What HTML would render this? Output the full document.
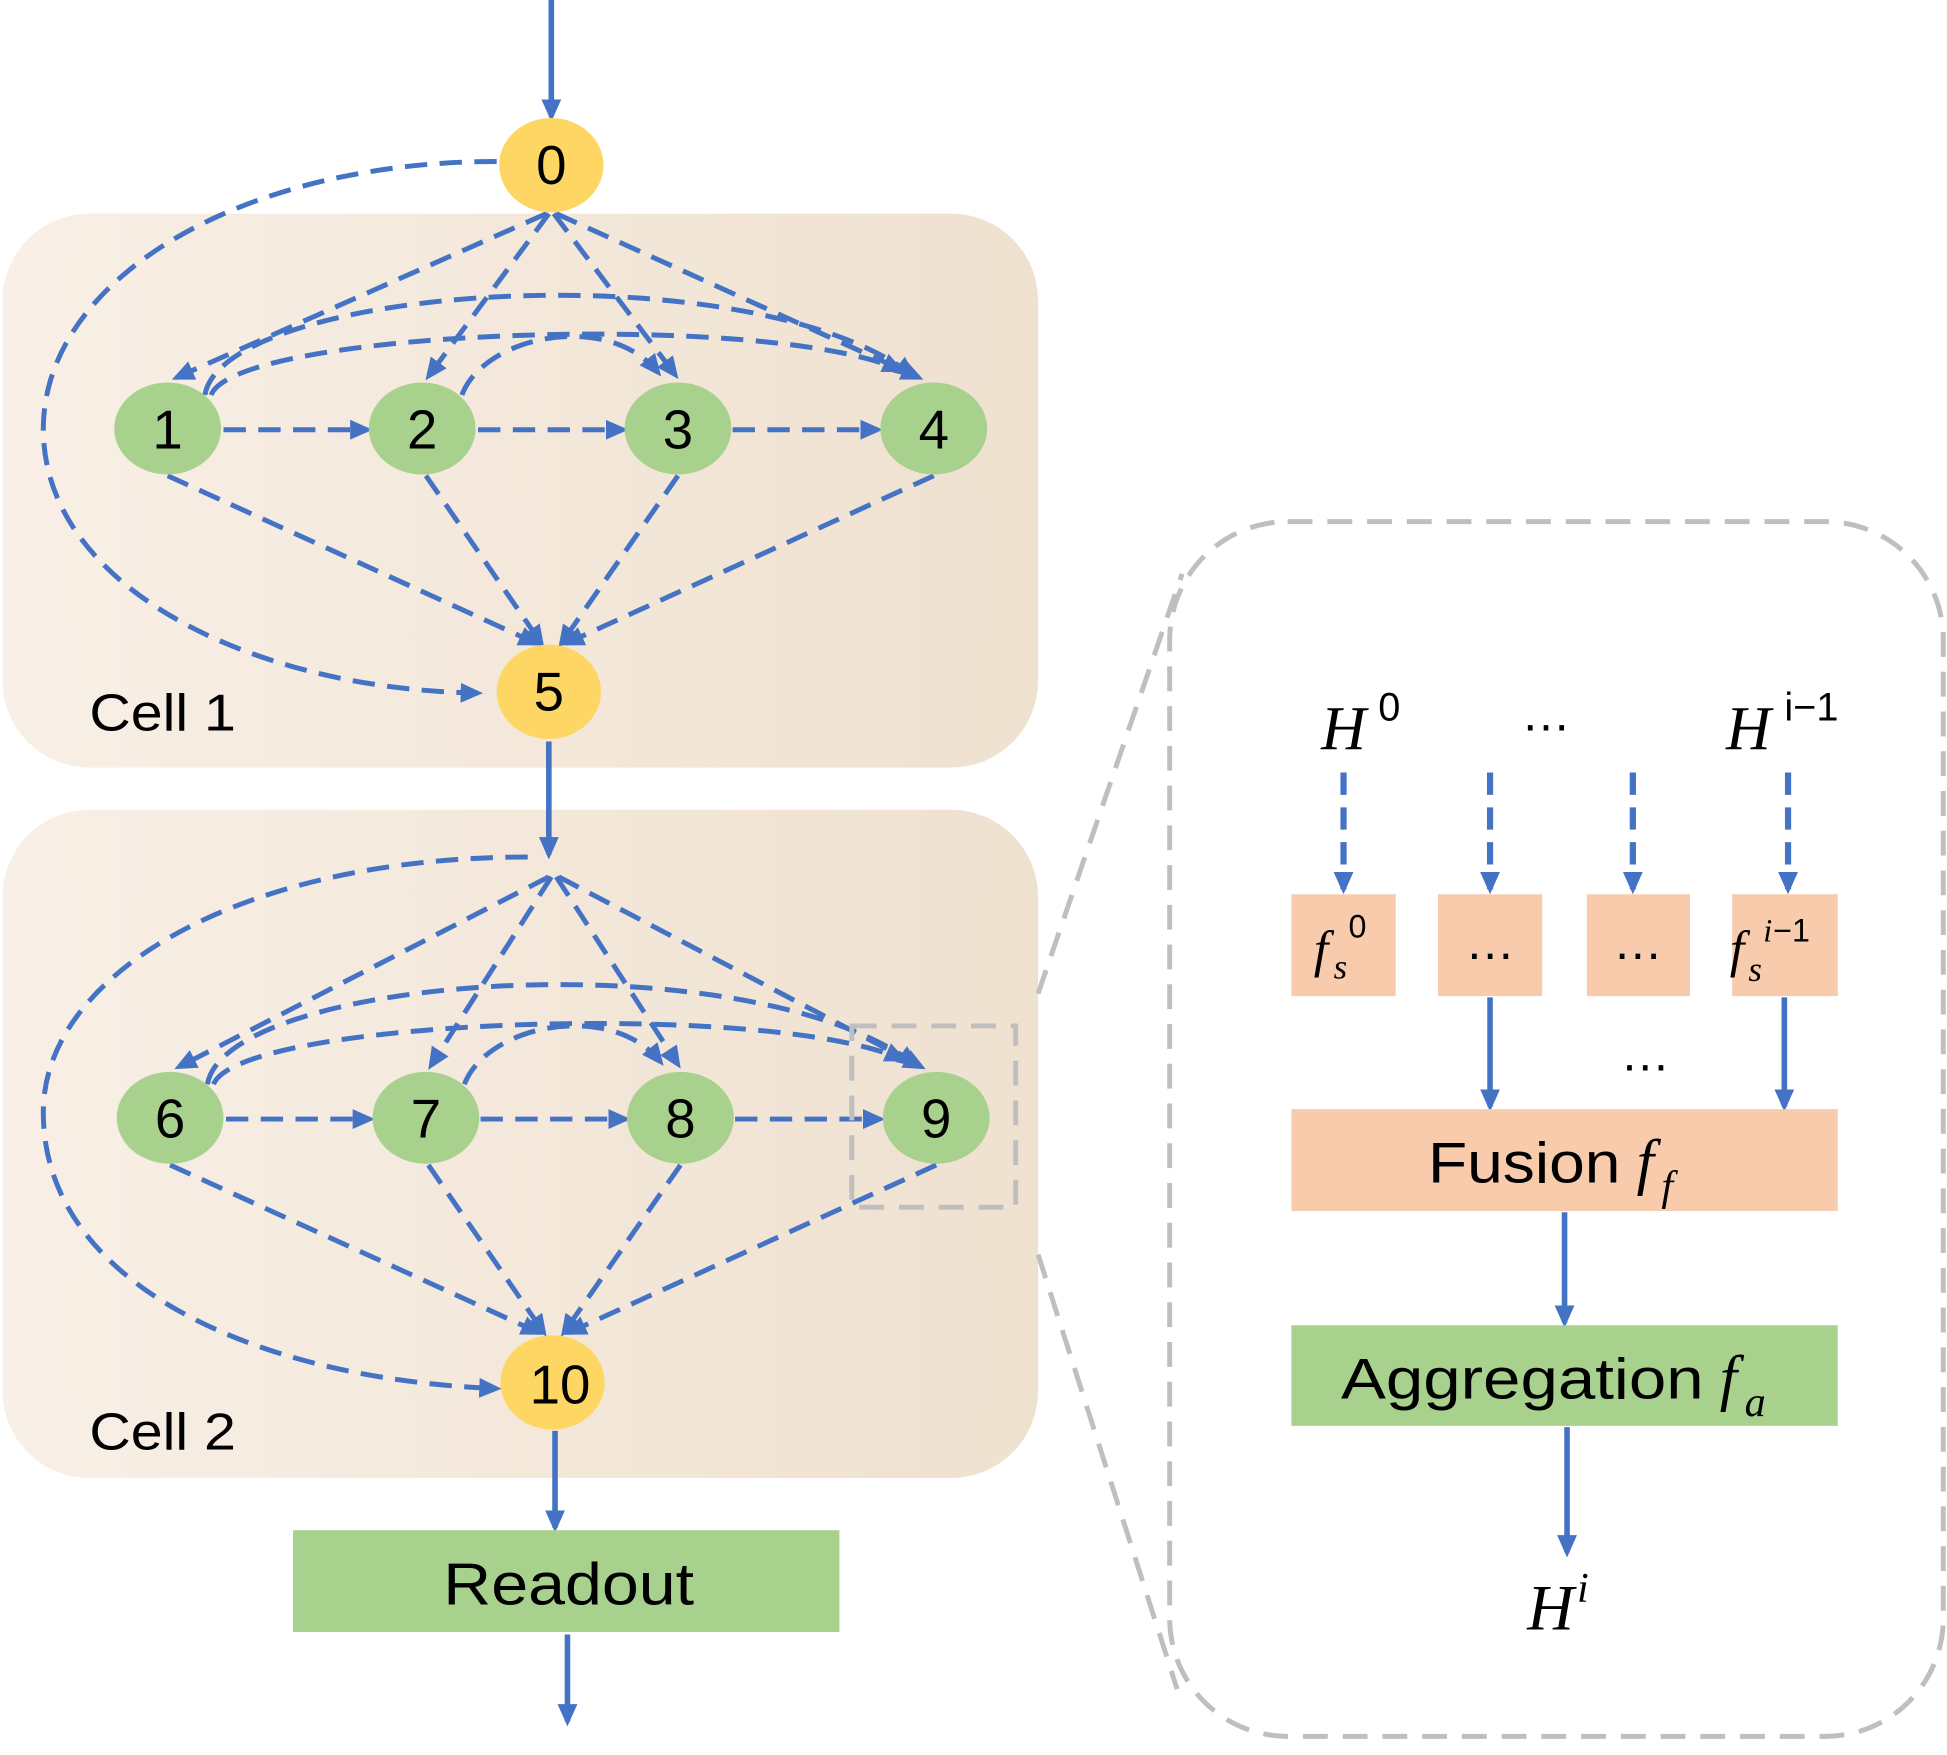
<!DOCTYPE html>
<html><head><meta charset="utf-8"><style>
html,body{margin:0;padding:0;background:#fff;}
svg{display:block}
text{font-family:"Liberation Sans",sans-serif;}
.m{font-family:"Liberation Serif",serif;font-style:italic;}
</style></head><body>
<svg width="1947" height="1755" viewBox="0 0 1568 1413" preserveAspectRatio="none" xmlns="http://www.w3.org/2000/svg">
<defs>
<linearGradient id="cg" x1="0" x2="1" y1="0" y2="0"><stop offset="0" stop-color="#f8efe6"/><stop offset="1" stop-color="#efe1d0"/></linearGradient>
<marker id="b" markerWidth="18" markerHeight="18" refX="14" refY="9" orient="auto" markerUnits="userSpaceOnUse" viewBox="0 0 18 18"><path d="M0,1 L18,9 L0,17 z" fill="#4472c4"/></marker>
</defs>
<rect x="2" y="172" width="834" height="446" rx="70" fill="url(#cg)"/>
<rect x="2" y="652" width="834" height="538" rx="70" fill="url(#cg)"/>
<g stroke="#4472c4" stroke-width="4.5" fill="none">
<line x1="444" y1="0" x2="444" y2="94" marker-end="url(#b)"/>
<line x1="442" y1="597" x2="442" y2="688" marker-end="url(#b)"/>
<line x1="447" y1="1152" x2="447" y2="1230" marker-end="url(#b)"/>
<line x1="457" y1="1316" x2="457" y2="1386" marker-end="url(#b)"/>
<line x1="1200" y1="803" x2="1200" y2="891" marker-end="url(#b)"/>
<line x1="1437" y1="803" x2="1437" y2="891" marker-end="url(#b)"/>
<line x1="1260" y1="976" x2="1260" y2="1065" marker-end="url(#b)"/>
<line x1="1262" y1="1149" x2="1262" y2="1250" marker-end="url(#b)"/>
</g>
<g stroke="#4472c4" stroke-width="5" fill="none" stroke-dasharray="18,10">
<line x1="1082" y1="622" x2="1082" y2="716" marker-end="url(#b)"/>
<line x1="1200" y1="622" x2="1200" y2="716" marker-end="url(#b)"/>
<line x1="1315" y1="622" x2="1315" y2="716" marker-end="url(#b)"/>
<line x1="1440" y1="622" x2="1440" y2="716" marker-end="url(#b)"/>
</g>
<g stroke="#4472c4" stroke-width="4" fill="none" stroke-dasharray="18,10">
<path d="M400,130 C200,130 40,220 35,340 C30,470 200,555 385,558" marker-end="url(#b)"/>
<line x1="440" y1="172" x2="142" y2="304" marker-end="url(#b)"/>
<line x1="442" y1="172" x2="345" y2="303" marker-end="url(#b)"/>
<line x1="446" y1="172" x2="544" y2="302" marker-end="url(#b)"/>
<line x1="448" y1="172" x2="740" y2="304" marker-end="url(#b)"/>
<path d="M165,318 C180,230 600,200 735,302" marker-end="url(#b)"/>
<path d="M170,318 C190,265 620,250 725,298" marker-end="url(#b)"/>
<path d="M372,318 C390,270 490,250 530,300" marker-end="url(#b)"/>
<line x1="180" y1="346" x2="296" y2="346" marker-end="url(#b)"/>
<line x1="385" y1="346" x2="502" y2="346" marker-end="url(#b)"/>
<line x1="590" y1="346" x2="707" y2="346" marker-end="url(#b)"/>
<line x1="135" y1="383" x2="432" y2="518" marker-end="url(#b)"/>
<line x1="343" y1="383" x2="436" y2="518" marker-end="url(#b)"/>
<line x1="546" y1="383" x2="452" y2="518" marker-end="url(#b)"/>
<line x1="752" y1="383" x2="456" y2="518" marker-end="url(#b)"/>
</g>
<g stroke="#4472c4" stroke-width="4" fill="none" stroke-dasharray="18,10">
<path d="M425,690 C200,690 40,780 35,890 C30,1030 200,1110 400,1118" marker-end="url(#b)"/>
<line x1="442" y1="706" x2="144" y2="859" marker-end="url(#b)"/>
<line x1="444" y1="706" x2="347" y2="858" marker-end="url(#b)"/>
<line x1="448" y1="706" x2="546" y2="857" marker-end="url(#b)"/>
<line x1="450" y1="706" x2="742" y2="859" marker-end="url(#b)"/>
<path d="M167,873 C182,785 600,755 737,857" marker-end="url(#b)"/>
<path d="M172,873 C192,820 620,805 727,853" marker-end="url(#b)"/>
<path d="M374,873 C392,825 492,805 532,855" marker-end="url(#b)"/>
<line x1="182" y1="901" x2="298" y2="901" marker-end="url(#b)"/>
<line x1="387" y1="901" x2="504" y2="901" marker-end="url(#b)"/>
<line x1="592" y1="901" x2="709" y2="901" marker-end="url(#b)"/>
<line x1="137" y1="938" x2="434" y2="1073" marker-end="url(#b)"/>
<line x1="345" y1="938" x2="438" y2="1073" marker-end="url(#b)"/>
<line x1="548" y1="938" x2="454" y2="1073" marker-end="url(#b)"/>
<line x1="754" y1="938" x2="458" y2="1073" marker-end="url(#b)"/>
</g>
<g fill="#fdd663"><ellipse cx="444" cy="133" rx="42" ry="38"/><ellipse cx="442" cy="557" rx="42" ry="38"/><ellipse cx="445" cy="1113" rx="42" ry="38"/></g>
<g fill="#a9d18e">
<ellipse cx="135" cy="345" rx="43" ry="37"/><ellipse cx="340" cy="345" rx="43" ry="37"/><ellipse cx="546" cy="345" rx="43" ry="37"/><ellipse cx="752" cy="345" rx="43" ry="37"/>
<ellipse cx="137" cy="900" rx="43" ry="37"/><ellipse cx="343" cy="900" rx="43" ry="37"/><ellipse cx="548" cy="900" rx="43" ry="37"/><ellipse cx="754" cy="900" rx="43" ry="37"/>
</g>
<g font-size="44" text-anchor="middle" fill="#000">
<text x="444" y="148">0</text><text x="442" y="572">5</text><text x="451" y="1130">10</text>
<text x="135" y="361">1</text><text x="340" y="361">2</text><text x="546" y="361">3</text><text x="752" y="361">4</text>
<text x="137" y="916">6</text><text x="343" y="916">7</text><text x="548" y="916">8</text><text x="754" y="916">9</text>
</g>
<text x="72" y="588" font-size="42" textLength="118" lengthAdjust="spacingAndGlyphs">Cell 1</text>
<text x="72" y="1167" font-size="42" textLength="118" lengthAdjust="spacingAndGlyphs">Cell 2</text>
<rect x="236" y="1232" width="440" height="82" fill="#a9d18e"/>
<text x="357" y="1292" font-size="48" textLength="202" lengthAdjust="spacingAndGlyphs">Readout</text>
<g stroke="#bfbfbf" stroke-width="4" fill="none" stroke-dasharray="20,12">
<rect x="686" y="826" width="132" height="146"/>
<rect x="942" y="420" width="623" height="978" rx="95"/>
<line x1="836" y1="800" x2="952" y2="462"/>
<line x1="836" y1="1010" x2="948" y2="1360"/>
</g>
<g fill="#f8cbad">
<rect x="1040" y="720" width="84" height="82"/><rect x="1158" y="720" width="84" height="82"/><rect x="1278" y="720" width="83" height="82"/><rect x="1395" y="720" width="85" height="82"/>
<rect x="1040" y="893" width="440" height="82"/>
</g>
<rect x="1040" y="1067" width="440" height="81" fill="#a9d18e"/>
<text x="1064" y="603" font-size="50" class="m">H</text><text x="1110" y="580" font-size="32" font-family="Liberation Serif">0</text>
<text x="1245" y="588" font-size="40" text-anchor="middle">…</text>
<text x="1390" y="603" font-size="50" class="m">H</text><text x="1437" y="580" font-size="32" font-family="Liberation Serif">i−1</text>
<text x="1058" y="778" font-size="42" class="m">f</text><text x="1074" y="788" font-size="28" class="m">s</text><text x="1086" y="755" font-size="26" font-family="Liberation Serif">0</text>
<text x="1200" y="772" font-size="40" text-anchor="middle">…</text>
<text x="1319" y="772" font-size="40" text-anchor="middle">…</text>
<text x="1393" y="778" font-size="42" class="m">f</text><text x="1408" y="790" font-size="28" class="m">s</text><text x="1420" y="758" font-size="26" class="m">i</text><text x="1428" y="758" font-size="26" font-family="Liberation Serif">−1</text>
<text x="1325" y="862" font-size="40" text-anchor="middle">…</text>
<text x="1150" y="952" font-size="46" textLength="155" lengthAdjust="spacingAndGlyphs">Fusion</text><text x="1318" y="952" font-size="50" class="m">f</text><text x="1338" y="966" font-size="34" class="m">f</text>
<text x="1080" y="1126" font-size="46" textLength="292" lengthAdjust="spacingAndGlyphs">Aggregation</text><text x="1385" y="1126" font-size="50" class="m">f</text><text x="1405" y="1140" font-size="34" class="m">a</text>
<text x="1230" y="1312" font-size="52" class="m">H</text><text x="1270" y="1290" font-size="34" class="m">i</text>
</svg>
</body></html>
